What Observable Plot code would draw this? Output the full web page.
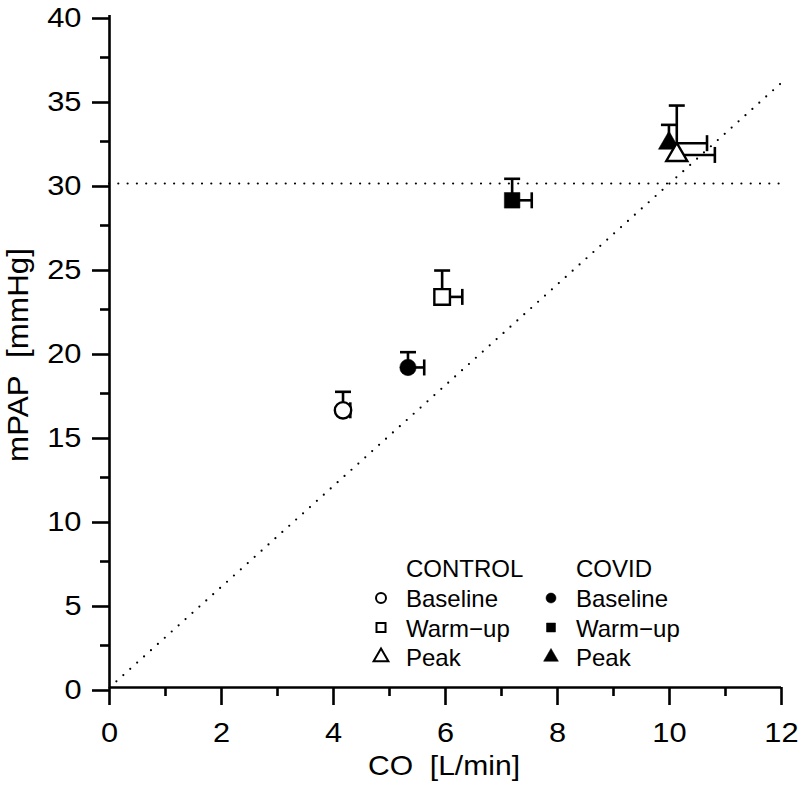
<!DOCTYPE html>
<html><head><meta charset="utf-8">
<script src="https://cdn.jsdelivr.net/npm/d3@7"></script>
<script src="https://cdn.jsdelivr.net/npm/@observablehq/plot@0.6"></script>
<style>
html,body{margin:0;padding:0;background:#fff;}
#chart{position:relative;width:798px;height:804px;}
</style></head><body><div id="chart"></div>
<script>
// ---- data ----
const groups  = ["CONTROL","CONTROL","CONTROL","COVID","COVID","COVID"];
const phases  = ["Baseline","Warm-up","Peak","Baseline","Warm-up","Peak"];
const co      = [4.17, 5.94, 10.13, 5.33, 7.19, 9.99];   // L/min
const coErr   = [0.13, 0.36, 0.68, 0.29, 0.35, 0.68];
const mpap    = [16.5, 23.25, 31.7, 19.05, 29.0, 32.4];  // mmHg
const mpapErr = [1.1, 1.57, 2.94, 0.91, 1.28, 1.09];
const xTicks  = [0, 2, 4, 6, 8, 10, 12];
const xMinor  = [1, 3, 5, 7, 9, 11];
const yTicks  = [0, 5, 10, 15, 20, 25, 30, 35, 40];
const yMinor  = [2.5, 7.5, 12.5, 17.5, 22.5, 27.5, 32.5, 37.5];
const refMPAP = [30];                 // horizontal reference
const refLineX = [0, 12];             // line of slope 3 (mPAP/CO)
const refSlope = 3;
const legendGroups = ["CONTROL", "COVID"];
const legendPhases = ["Baseline", "Warm-up", "Peak"];

const data = co.map((x, i) => ({group: groups[i], phase: phases[i], x, y: mpap[i], xe: x + coErr[i], ye: mpap[i] + mpapErr[i]}));
const symbolOf = {"Baseline": "circle", "Warm-up": "square", "Peak": "triangle"};
const rOf = {"Baseline": 8.2, "Warm-up": 8.8, "Peak": 7.8};
const hcap = {draw(ctx, size) { const w = Math.sqrt(size / Math.PI); ctx.moveTo(-w, 0); ctx.lineTo(w, 0); }};
const vcap = {draw(ctx, size) { const w = Math.sqrt(size / Math.PI); ctx.moveTo(0, -w); ctx.lineTo(0, w); }};

const FONT = "'Liberation Sans', Arial, Helvetica, sans-serif";
const AX = 2.6;

const markers = [];
for (const g of ["COVID", "CONTROL"]) {
  for (const p of legendPhases) {
    markers.push(Plot.dot(data.filter(d => d.group === g && d.phase === p), {
      x: "x", y: "y", symbol: symbolOf[p], r: rOf[p],
      fill: g === "COVID" ? "black" : "white", stroke: "black", strokeWidth: g === "COVID" ? 0.5 : 2.4
    }));
  }
}

const chart = Plot.plot({
  width: 798, height: 804,
  marginLeft: 109, marginRight: 17, marginTop: 15, marginBottom: 117,
  style: {fontFamily: FONT, background: "white", color: "black"},
  x: {domain: [0, 12]},
  y: {domain: [0, 40]},
  marks: [
    // reference lines
    Plot.ruleY(refMPAP, {x1: 0, x2: 12, stroke: "black", strokeWidth: 2.2, strokeDasharray: "0,9.3", strokeLinecap: "round"}),
    Plot.line(refLineX, {x: d => d, y: d => d * refSlope, stroke: "black", strokeWidth: 2.2, strokeDasharray: "0,9.3", strokeLinecap: "round"}),
    // axes
    Plot.axisX(xMinor, {tickSize: 9, tickFormat: () => "", strokeWidth: AX, label: null}),
    Plot.axisX(xTicks, {tickSize: 18, tickPadding: 17, fontSize: 28, strokeWidth: AX, tickFormat: d => String(d), label: null}),
    Plot.axisY(yMinor, {tickSize: 9, tickFormat: () => "", strokeWidth: AX, label: null}),
    Plot.axisY(yTicks, {tickSize: 17, tickPadding: 11, fontSize: 28, strokeWidth: AX, dy: 3, tickFormat: d => String(d), label: null}),
    Plot.ruleY([0], {x1: 0, x2: 12, stroke: "black", strokeWidth: AX}),
    Plot.ruleX([0], {y1: 0, y2: 40, stroke: "black", strokeWidth: AX}),
    // error bars (positive direction only)
    Plot.link(data, {x1: "x", y1: "y", x2: "x", y2: "ye", stroke: "black", strokeWidth: 2.6}),
    Plot.link(data, {x1: "x", y1: "y", x2: "xe", y2: "y", stroke: "black", strokeWidth: 2.6}),
    Plot.dot(data, {x: "x", y: "ye", symbol: hcap, r: 8, fill: "none", stroke: "black", strokeWidth: 2.6}),
    Plot.dot(data, {x: "xe", y: "y", symbol: vcap, r: 8, fill: "none", stroke: "black", strokeWidth: 2.6}),
    ...markers
  ]
});

document.getElementById("chart").appendChild(chart);
const svg = d3.select(chart);

// widen tick labels slightly to match the reference's typeface proportions
svg.selectAll("g[aria-label$='tick label'] text").each(function() {
  const L = this.getComputedTextLength();
  if (L > 0) { this.setAttribute("textLength", (L * 1.1).toFixed(1)); this.setAttribute("lengthAdjust", "spacingAndGlyphs"); }
});

// axis titles
svg.append("text")
  .attr("x", 444).attr("y", 775)
  .attr("text-anchor", "middle")
  .attr("font-family", FONT).attr("font-size", 28)
  .attr("fill", "black")
  .attr("textLength", 152).attr("lengthAdjust", "spacingAndGlyphs")
  .text("CO\u00a0\u00a0[L/min]");
svg.append("text")
  .attr("transform", "translate(28,355) rotate(-90)")
  .attr("text-anchor", "middle")
  .attr("font-family", FONT).attr("font-size", 29)
  .attr("fill", "black")
  .attr("textLength", 214).attr("lengthAdjust", "spacingAndGlyphs")
  .text("mPAP\u00a0\u00a0[mmHg]");

// legend
const lg = svg.append("g").attr("font-family", FONT).attr("font-size", 24).attr("fill", "black").attr("text-anchor", "start");
const colX = {CONTROL: 381, COVID: 551};
const textX = {CONTROL: 406, COVID: 576};
const headerY = 577, rowY0 = 607, rowStep = 29.5;
legendGroups.forEach(g => {
  lg.append("text").attr("x", textX[g]).attr("y", headerY).attr("text-anchor", "start").text(g);
  legendPhases.forEach((p, j) => {
    const cy = rowY0 + j * rowStep - 9;
    const sym = d3.symbol().type(p === "Baseline" ? d3.symbolCircle : p === "Warm-up" ? d3.symbolSquare : d3.symbolTriangle)
      .size(p === "Baseline" ? Math.PI * 25 : p === "Warm-up" ? 81 : 95);
    lg.append("path").attr("d", sym()).attr("transform", `translate(${colX[g]},${cy})`)
      .attr("fill", g === "COVID" ? "black" : "white").attr("stroke", "black").attr("stroke-width", g === "COVID" ? 0.5 : 2);
    lg.append("text").attr("x", textX[g]).attr("y", rowY0 + j * rowStep).attr("text-anchor", "start").text(p === "Warm-up" ? "Warm\u2212up" : p);
  });
});
</script>
</body></html>
